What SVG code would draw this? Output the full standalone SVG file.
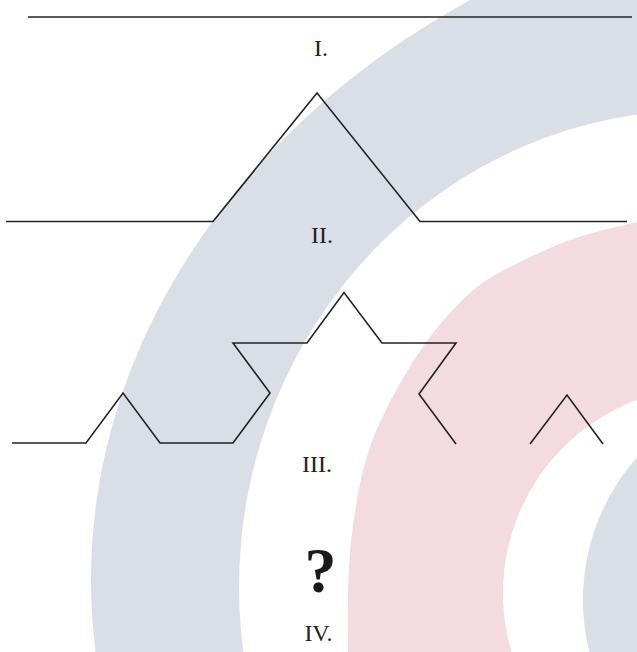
<svg xmlns="http://www.w3.org/2000/svg" width="637" height="652" viewBox="0 0 637 652">
  <style>
    .blue { fill: #d9dee7; }
    .pink { fill: #f3dbdf; }
    .white { fill: #ffffff; }
    .curve { fill: none; stroke: #222222; stroke-width: 1.6; stroke-linejoin: miter; stroke-linecap: butt; }
    .lbl { font-family: "Liberation Serif", "Times New Roman", serif; font-size: 24px; fill: #222222; text-anchor: middle; }
    .q { font-family: "Liberation Serif", "Times New Roman", serif; font-size: 64px; font-weight: bold; fill: #1a1a1a; text-anchor: middle; }
  </style>
  <rect width="637" height="652" fill="#ffffff"/>
  <g id="background">
    <ellipse class="blue" cx="955.6" cy="580" rx="864.6" ry="701"/>
    <ellipse class="white" cx="700" cy="587" rx="461" ry="477"/>
    <path class="pink" d="M760,150 L700,207 L637,222 C615.3,227.5 592.2,232 570,240 C547.8,248 520.7,261.2 504,270 C487.3,278.8 480.2,284.5 470,293 C459.8,301.5 450.5,312.5 443,321 C435.5,329.5 431.3,335 425,344 C418.7,353 411.5,364 405,375 C398.5,386 392,397.5 386,410 C380,422.5 373.8,435 369,450 C364.2,465 360.3,480.5 357,500 C353.7,519.5 350.5,541.7 349,567 C347.5,592.3 347.8,626.5 348,652 L348,700 L760,700 Z"/>
    <circle class="white" cx="709" cy="593" r="206"/>
    <circle class="blue" cx="799" cy="600" r="216"/>
  </g>
  <g id="connectors">
    <polyline id="fig-I" class="curve" points="28,17 632,17"/>
    <polyline id="fig-II" class="curve" points="6,221.5 213,221.5 317,93 420,221.5 627,221.5"/>
    <polyline id="fig-III-a" class="curve" points="12,443 86,443 123,393 160,443 233,443 270,393 233,343 307,343 344,292.5 382,343 456,343 419,394 456,444"/>
    <polyline id="fig-III-b" class="curve" points="530,444 567,395 603,444"/>
  </g>
  <g id="label-I"><text class="lbl" x="321" y="56">I.</text></g>
  <g id="label-II"><text class="lbl" x="322" y="243">II.</text></g>
  <g id="label-III"><text class="lbl" x="317" y="472">III.</text></g>
  <g id="label-question"><text class="q" x="320.5" y="592">?</text></g>
  <g id="label-IV"><text class="lbl" x="318.5" y="641">IV.</text></g>
</svg>
